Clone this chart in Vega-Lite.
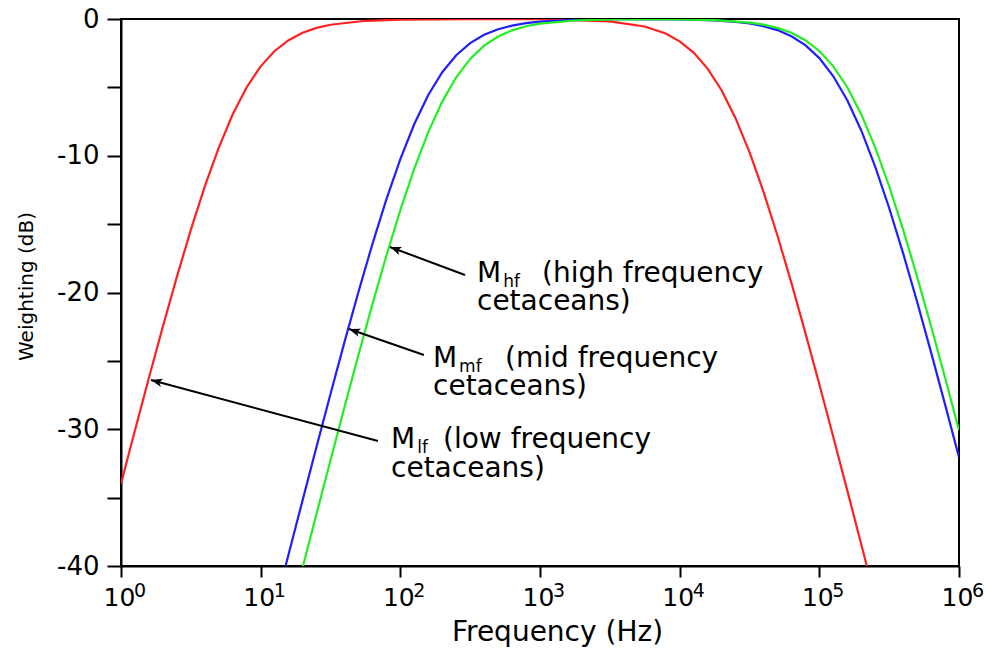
{
  "$schema": "https://vega.github.io/schema/vega-lite/v6.json",
  "width": 838,
  "height": 547,
  "autosize": "none",
  "padding": {"left": 121, "top": 19, "right": 39, "bottom": 84},
  "background": "white",
  "config": {
    "font": "DejaVu Sans",
    "view": {"stroke": "black", "strokeWidth": 2},
    "axis": {
      "grid": false,
      "domainColor": "black",
      "domainWidth": 2,
      "tickColor": "black",
      "tickWidth": 2,
      "labelColor": "black",
      "titleColor": "black",
      "labelFont": "DejaVu Sans",
      "titleFont": "DejaVu Sans",
      "titleFontWeight": "normal"
    }
  },
  "datasets": {
    "curves": [
      {"s": "lf", "f": 1, "w": -33.98},
      {"s": "lf", "f": 1.2589, "w": -30.08},
      {"s": "lf", "f": 1.5849, "w": -26.24},
      {"s": "lf", "f": 1.9953, "w": -22.48},
      {"s": "lf", "f": 2.5119, "w": -18.86},
      {"s": "lf", "f": 3.1623, "w": -15.42},
      {"s": "lf", "f": 3.9811, "w": -12.24},
      {"s": "lf", "f": 5.0119, "w": -9.4},
      {"s": "lf", "f": 6.3096, "w": -6.97},
      {"s": "lf", "f": 7.9433, "w": -4.99},
      {"s": "lf", "f": 10, "w": -3.46},
      {"s": "lf", "f": 12.589, "w": -2.34},
      {"s": "lf", "f": 15.849, "w": -1.55},
      {"s": "lf", "f": 19.953, "w": -1.01},
      {"s": "lf", "f": 25.119, "w": -0.65},
      {"s": "lf", "f": 31.623, "w": -0.42},
      {"s": "lf", "f": 56.234, "w": -0.13},
      {"s": "lf", "f": 100, "w": -0.04},
      {"s": "lf", "f": 316.23, "w": -0.01},
      {"s": "lf", "f": 1000, "w": -0.02},
      {"s": "lf", "f": 3162.3, "w": -0.18},
      {"s": "lf", "f": 5623.4, "w": -0.55},
      {"s": "lf", "f": 7943.3, "w": -1.06},
      {"s": "lf", "f": 10000, "w": -1.63},
      {"s": "lf", "f": 12589, "w": -2.46},
      {"s": "lf", "f": 15849, "w": -3.63},
      {"s": "lf", "f": 19953, "w": -5.21},
      {"s": "lf", "f": 25119, "w": -7.25},
      {"s": "lf", "f": 31623, "w": -9.73},
      {"s": "lf", "f": 39811, "w": -12.62},
      {"s": "lf", "f": 50119, "w": -15.83},
      {"s": "lf", "f": 63096, "w": -19.3},
      {"s": "lf", "f": 79433, "w": -22.95},
      {"s": "lf", "f": 100000, "w": -26.71},
      {"s": "lf", "f": 125893, "w": -30.56},
      {"s": "lf", "f": 158489, "w": -34.47},
      {"s": "lf", "f": 199526, "w": -38.41},
      {"s": "lf", "f": 251189, "w": -42.37},

      {"s": "mf", "f": 12.589, "w": -43.1},
      {"s": "mf", "f": 15.849, "w": -39.14},
      {"s": "mf", "f": 19.953, "w": -35.2},
      {"s": "mf", "f": 25.119, "w": -31.28},
      {"s": "mf", "f": 31.623, "w": -27.42},
      {"s": "mf", "f": 39.811, "w": -23.63},
      {"s": "mf", "f": 50.119, "w": -19.96},
      {"s": "mf", "f": 63.096, "w": -16.46},
      {"s": "mf", "f": 79.433, "w": -13.19},
      {"s": "mf", "f": 100, "w": -10.24},
      {"s": "mf", "f": 125.89, "w": -7.68},
      {"s": "mf", "f": 158.49, "w": -5.56},
      {"s": "mf", "f": 199.53, "w": -3.89},
      {"s": "mf", "f": 251.19, "w": -2.65},
      {"s": "mf", "f": 316.23, "w": -1.76},
      {"s": "mf", "f": 398.11, "w": -1.15},
      {"s": "mf", "f": 501.19, "w": -0.75},
      {"s": "mf", "f": 630.96, "w": -0.48},
      {"s": "mf", "f": 794.33, "w": -0.3},
      {"s": "mf", "f": 1000, "w": -0.19},
      {"s": "mf", "f": 1778.3, "w": -0.06},
      {"s": "mf", "f": 3162.3, "w": -0.02},
      {"s": "mf", "f": 10000, "w": -0.03},
      {"s": "mf", "f": 17783, "w": -0.11},
      {"s": "mf", "f": 25119, "w": -0.21},
      {"s": "mf", "f": 31623, "w": -0.33},
      {"s": "mf", "f": 39811, "w": -0.52},
      {"s": "mf", "f": 50119, "w": -0.81},
      {"s": "mf", "f": 63096, "w": -1.26},
      {"s": "mf", "f": 79433, "w": -1.91},
      {"s": "mf", "f": 100000, "w": -2.86},
      {"s": "mf", "f": 125893, "w": -4.19},
      {"s": "mf", "f": 158489, "w": -5.94},
      {"s": "mf", "f": 199526, "w": -8.15},
      {"s": "mf", "f": 251189, "w": -10.79},
      {"s": "mf", "f": 316228, "w": -13.82},
      {"s": "mf", "f": 398107, "w": -17.14},
      {"s": "mf", "f": 501187, "w": -20.68},
      {"s": "mf", "f": 630957, "w": -24.38},
      {"s": "mf", "f": 794328, "w": -28.18},
      {"s": "mf", "f": 1000000, "w": -32.05},

      {"s": "hf", "f": 15.849, "w": -44.1},
      {"s": "hf", "f": 19.953, "w": -40.13},
      {"s": "hf", "f": 25.119, "w": -36.18},
      {"s": "hf", "f": 31.623, "w": -32.26},
      {"s": "hf", "f": 39.811, "w": -28.38},
      {"s": "hf", "f": 50.119, "w": -24.57},
      {"s": "hf", "f": 63.096, "w": -20.87},
      {"s": "hf", "f": 79.433, "w": -17.31},
      {"s": "hf", "f": 100, "w": -13.98},
      {"s": "hf", "f": 125.89, "w": -10.94},
      {"s": "hf", "f": 158.49, "w": -8.27},
      {"s": "hf", "f": 199.53, "w": -6.04},
      {"s": "hf", "f": 251.19, "w": -4.26},
      {"s": "hf", "f": 316.23, "w": -2.92},
      {"s": "hf", "f": 398.11, "w": -1.95},
      {"s": "hf", "f": 501.19, "w": -1.28},
      {"s": "hf", "f": 630.96, "w": -0.83},
      {"s": "hf", "f": 794.33, "w": -0.53},
      {"s": "hf", "f": 1000, "w": -0.34},
      {"s": "hf", "f": 1778.3, "w": -0.11},
      {"s": "hf", "f": 3162.3, "w": -0.03},
      {"s": "hf", "f": 10000, "w": -0.03},
      {"s": "hf", "f": 17783, "w": -0.08},
      {"s": "hf", "f": 31623, "w": -0.26},
      {"s": "hf", "f": 39811, "w": -0.41},
      {"s": "hf", "f": 50119, "w": -0.65},
      {"s": "hf", "f": 63096, "w": -1.01},
      {"s": "hf", "f": 79433, "w": -1.55},
      {"s": "hf", "f": 100000, "w": -2.34},
      {"s": "hf", "f": 125893, "w": -3.46},
      {"s": "hf", "f": 158489, "w": -4.99},
      {"s": "hf", "f": 199526, "w": -6.96},
      {"s": "hf", "f": 251189, "w": -9.39},
      {"s": "hf", "f": 316228, "w": -12.23},
      {"s": "hf", "f": 398107, "w": -15.4},
      {"s": "hf", "f": 501187, "w": -18.84},
      {"s": "hf", "f": 630957, "w": -22.47},
      {"s": "hf", "f": 794328, "w": -26.22},
      {"s": "hf", "f": 1000000, "w": -30.07}
    ],
    "labels": [
      {"t": "M", "f": 353.9, "w": -19.23},
      {"t": "(high frequency", "f": 1033.5, "w": -19.23},
      {"t": "cetaceans)", "f": 353.9, "w": -21.28},
      {"t": "M", "f": 171.4, "w": -25.45},
      {"t": "(mid frequency", "f": 561.6, "w": -25.45},
      {"t": "cetaceans)", "f": 171.4, "w": -27.5},
      {"t": "M", "f": 85.75, "w": -31.37},
      {"t": "(low frequency", "f": 202.1, "w": -31.37},
      {"t": "cetaceans)", "f": 85.75, "w": -33.49}
    ],
    "subs": [
      {"t": "hf", "f": 545, "w": -19.6},
      {"t": "mf", "f": 263.5, "w": -25.81},
      {"t": "lf", "f": 132, "w": -31.74}
    ],
    "arrows": [
      {"a": "hf", "f1": 290.4, "w1": -18.72, "f2": 84.3, "w2": -16.67},
      {"a": "mf", "f1": 147.6, "w1": -24.57, "f2": 42.9, "w2": -22.67},
      {"a": "lf", "f1": 69.2, "w1": -30.86, "f2": 1.64, "w2": -26.4}
    ],
    "exps": [
      {"f": 1, "e": "0"},
      {"f": 10, "e": "1"},
      {"f": 100, "e": "2"},
      {"f": 1000, "e": "3"},
      {"f": 10000, "e": "4"},
      {"f": 100000, "e": "5"},
      {"f": 1000000, "e": "6"}
    ]
  },
  "layer": [
    {
      "data": {"name": "curves"},
      "mark": {"type": "line", "clip": true, "strokeWidth": 2.2},
      "encoding": {
        "x": {
          "field": "f",
          "type": "quantitative",
          "title": "Frequency (Hz)",
          "scale": {"type": "log", "domain": [1, 1000000], "nice": false},
          "axis": {
            "values": [1, 10, 100, 1000, 10000, 100000, 1000000],
            "labelExpr": "'10'",
            "tickSize": 11,
            "labelFontSize": 25,
            "labelPadding": 28,
            "labelBaseline": "alphabetic",
            "labelFlush": false,
            "labelOverlap": false,
            "labelOffset": -2,
            "titleFontSize": 28,
            "titleX": 436,
            "titleY": 74,
            "titleBaseline": "alphabetic",
            "titleAlign": "center"
          }
        },
        "y": {
          "field": "w",
          "type": "quantitative",
          "title": "Weighting (dB)",
          "scale": {"domain": [-40, 0], "nice": false, "zero": false},
          "axis": {
            "values": [-40, -35, -30, -25, -20, -15, -10, -5, 0],
            "labelExpr": "datum.value % 10 === 0 ? toString(datum.value) : ''",
            "tickSize": 14,
            "labelFontSize": 26,
            "labelPadding": 8,
            "labelOverlap": false,
            "titleFontSize": 20,
            "titleX": -95,
            "titleY": 267,
            "titleAlign": "center",
            "titleBaseline": "middle",
            "titleAngle": -90
          }
        },
        "color": {
          "field": "s",
          "type": "nominal",
          "scale": {"domain": ["lf", "mf", "hf"], "range": ["#ff2020", "#2020ff", "#22ee22"]},
          "legend": null
        }
      }
    },
    {
      "data": {"name": "arrows"},
      "mark": {"type": "rule", "color": "black", "strokeWidth": 2},
      "encoding": {
        "x": {"field": "f1", "type": "quantitative", "title": "Frequency (Hz)"},
        "y": {"field": "w1", "type": "quantitative", "title": "Weighting (dB)"},
        "x2": {"field": "f2"},
        "y2": {"field": "w2"}
      }
    },
    {
      "data": {"name": "arrows"},
      "transform": [{"filter": "datum.a === 'hf'"}],
      "mark": {"type": "point", "shape": "M0,0L2.4,-0.9L1.8,0L2.4,0.9Z", "filled": true, "color": "black", "opacity": 1, "size": 90, "angle": 20.5},
      "encoding": {
        "x": {"field": "f2", "type": "quantitative", "title": "Frequency (Hz)"},
        "y": {"field": "w2", "type": "quantitative", "title": "Weighting (dB)"}
      }
    },
    {
      "data": {"name": "arrows"},
      "transform": [{"filter": "datum.a === 'mf'"}],
      "mark": {"type": "point", "shape": "M0,0L2.4,-0.9L1.8,0L2.4,0.9Z", "filled": true, "color": "black", "opacity": 1, "size": 90, "angle": 19.1},
      "encoding": {
        "x": {"field": "f2", "type": "quantitative", "title": "Frequency (Hz)"},
        "y": {"field": "w2", "type": "quantitative", "title": "Weighting (dB)"}
      }
    },
    {
      "data": {"name": "arrows"},
      "transform": [{"filter": "datum.a === 'lf'"}],
      "mark": {"type": "point", "shape": "M0,0L2.4,-0.9L1.8,0L2.4,0.9Z", "filled": true, "color": "black", "opacity": 1, "size": 90, "angle": 15.0},
      "encoding": {
        "x": {"field": "f2", "type": "quantitative", "title": "Frequency (Hz)"},
        "y": {"field": "w2", "type": "quantitative", "title": "Weighting (dB)"}
      }
    },
    {
      "data": {"name": "labels"},
      "mark": {"type": "text", "align": "left", "baseline": "alphabetic", "font": "DejaVu Sans", "fontSize": 28, "color": "black"},
      "encoding": {
        "x": {"field": "f", "type": "quantitative", "title": "Frequency (Hz)"},
        "y": {"field": "w", "type": "quantitative", "title": "Weighting (dB)"},
        "text": {"field": "t"}
      }
    },
    {
      "data": {"name": "subs"},
      "mark": {"type": "text", "align": "left", "baseline": "alphabetic", "font": "DejaVu Sans", "fontSize": 17, "color": "black"},
      "encoding": {
        "x": {"field": "f", "type": "quantitative", "title": "Frequency (Hz)"},
        "y": {"field": "w", "type": "quantitative", "title": "Weighting (dB)"},
        "text": {"field": "t"}
      }
    },
    {
      "data": {"name": "exps"},
      "mark": {"type": "text", "align": "left", "baseline": "alphabetic", "dx": 13, "dy": 31, "font": "DejaVu Sans", "fontSize": 19, "color": "black"},
      "encoding": {
        "x": {"field": "f", "type": "quantitative", "title": "Frequency (Hz)"},
        "y": {"datum": -40, "type": "quantitative", "title": "Weighting (dB)"},
        "text": {"field": "e"}
      }
    }
  ]
}
